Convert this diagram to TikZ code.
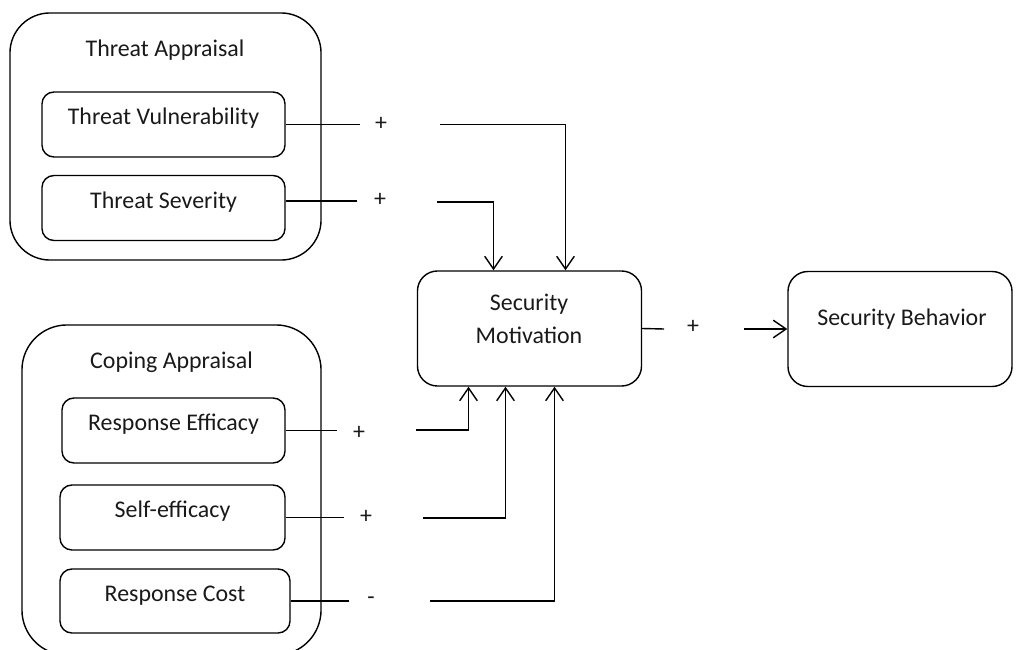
\documentclass[tikz,border=0pt]{standalone}
\usepackage{fontspec}
\setmainfont{Carlito}
\usetikzlibrary{arrows.meta, calc}
\tikzset{
    x=0.025cm, y=-0.025cm, % one unit is one pixel of the sketch, y runs down
    every node/.style={font=\fontsize{17}{23.4}\selectfont, text=black!90},
    group/.style={draw, line width=1pt},
    factor/.style={draw, line width=1pt, rounded corners=0.3cm, minimum width=6.075cm, minimum height=1.625cm},
    main/.style={draw, line width=1pt, rounded corners=0.5cm, minimum width=5.6cm, minimum height=2.875cm},
    caption/.style={anchor=base},
    sign/.style={inner sep=1pt},
    link/.style={line width=1pt},
    >={Straight Barb[length=3.2mm, width=4.4mm]}, % open v-shaped heads
}

\begin{document}
\begin{tikzpicture}
    \useasboundingbox (0,0) rectangle (1019,650);
    \clip (0,0) rectangle (1019,650);

    % the two appraisal groups
    \node[group, rounded corners=1cm, minimum width=7.775cm, minimum height=6.175cm] (threat) at (165.5,136.5) {};
    \node[caption] (threat-t) at (165,56.7) {Threat Appraisal};
    \node[factor] (tv) at (163.5,124.5) {};
    \node[caption] (tv-t) at (tv.center) {Threat Vulnerability};
    \node[factor] (ts) at (163.5,208) {};
    \node[caption] (ts-t) at (ts.center) {Threat Severity};

    \node[group, rounded corners=1.125cm, minimum width=7.475cm, minimum height=8.25cm] (coping) at (171.5,490) {};
    \node[caption] (coping-t) at (171.5,368) {Coping Appraisal};
    \node[factor, minimum width=5.575cm] (re) at (173.5,430.5) {};
    \node[caption] (re-t) at (re.center) {Response Efficacy};
    \node[factor, minimum width=5.625cm] (se) at (172.5,517.5) {};
    \node[caption] (se-t) at (se.center) {Self-efficacy};
    \node[factor, minimum width=5.75cm, minimum height=1.6cm] (rc) at (175,601) {};
    \node[caption] (rc-t) at (rc.center) {Response Cost};

    % motivation and behavior
    \node[main] (sm) at (529.5,328.5) {};
    \node[align=center] (sm-t) at (529,319) {Security\\Motivation};
    \node[main] (sb) at (900,329) {};
    \node[caption] (sb-t) at (902,325) {Security Behavior};

    % signs and the free ends of the broken links
    \node[sign] (tv-s) at (381,124) {+};
    \node[sign] (ts-s) at (380,200) {+};
    \node[sign] (re-s) at (359,433) {+};
    \node[sign] (se-s) at (366,517) {+};
    \node[sign] (rc-s) at (371,601) {-};
    \node[sign] (sm-s) at (693,327) {+};
    \coordinate (tv-a) at (360,124.5);  \coordinate (tv-b) at (440,124.5);
    \coordinate (ts-a) at (357,201);    \coordinate (ts-b) at (437,202);
    \coordinate (re-a) at (337,430.5);  \coordinate (re-b) at (416,430);
    \coordinate (se-a) at (344,517.5);  \coordinate (se-b) at (423,518);
    \coordinate (rc-a) at (349,601);    \coordinate (rc-b) at (430,601);
    \coordinate (sm-a) at (664,329);    \coordinate (sm-b) at (744,329);

    \draw[link] (tv.east) -- (tv-a);
    \draw[link, ->] (tv-b) -| ($(sm.north)+(36,0)$);
    \draw[link] (ts.east |- ts-a) -- (ts-a);
    \draw[link, ->] (ts-b) -| ($(sm.north)+(-36,0)$);
    \draw[link] (re.east) -- (re-a);
    \draw[link, ->] (re-b) -| ($(sm.south)+(-61,0)$);
    \draw[link] (se.east) -- (se-a);
    \draw[link, ->] (se-b) -| ($(sm.south)+(-24,0)$);
    \draw[link] (rc.east) -- (rc-a);
    \draw[link, ->] (rc-b) -| ($(sm.south)+(25,0)$);
    \draw[link] (sm.east) -- (sm-a);
    \draw[link, ->] (sm-b) -- (sb.west);
\end{tikzpicture}
\end{document}
